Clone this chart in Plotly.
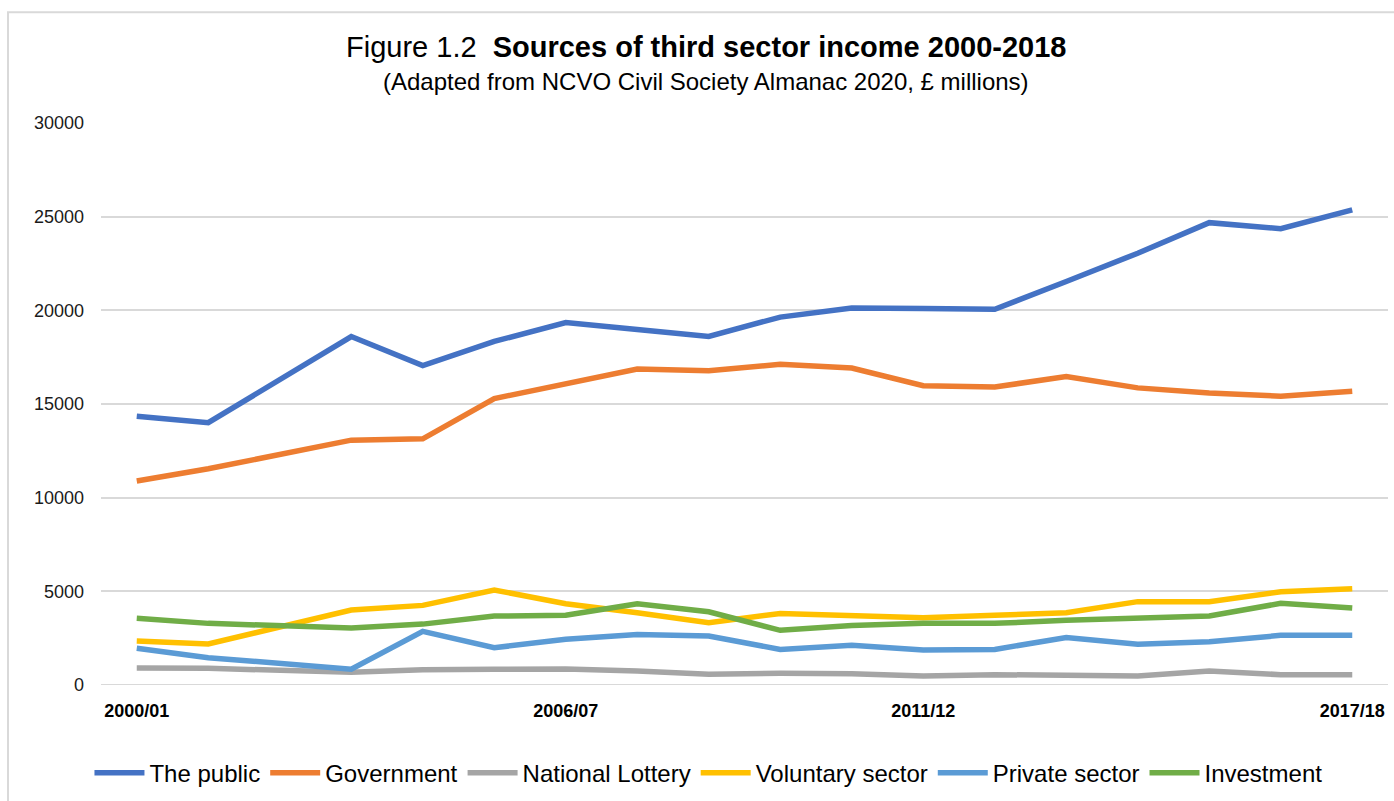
import plotly.graph_objects as go

# Financial years on the category axis
years = ["2000/01", "2001/02", "2002/03", "2003/04", "2004/05", "2005/06",
         "2006/07", "2007/08", "2008/09", "2009/10", "2010/11", "2011/12",
         "2012/13", "2013/14", "2014/15", "2015/16", "2016/17", "2017/18"]
shown_years = ["2000/01", "2006/07", "2011/12", "2017/18"]

# Income by source, £ millions (2002/03 not reported)
the_public = [14350, 14000, None, 18600, 17050, 18340, 19350, 18980, 18610,
              19640, 20120, 20100, 20060, 21540, 23050, 24680, 24360, 25360]
government = [10890, 11540, None, 13070, 13140, 15290, 16090, 16870, 16780,
              17120, 16920, 15980, 15910, 16460, 15860, 15590, 15420, 15680]
national_lottery = [907, 890, None, 676, 818, 836, 854, 747, 569,
                    623, 605, 480, 551, 516, 480, 747, 551, 551]
voluntary_sector = [2350, 2190, None, 4000, 4250, 5070, 4340, 3860, 3330,
                    3820, 3720, 3590, 3720, 3860, 4450, 4450, 4980, 5140]
private_sector = [1960, 1460, None, 840, 2860, 1990, 2440, 2700, 2610,
                  1900, 2120, 1870, 1900, 2530, 2170, 2310, 2650, 2650]
investment = [3560, 3290, None, 3040, 3250, 3680, 3720, 4340, 3910,
              2920, 3180, 3290, 3290, 3450, 3590, 3680, 4360, 4110]

series = [
    ("The public", the_public, "#4472C4"),
    ("Government", government, "#ED7D31"),
    ("National Lottery", national_lottery, "#A5A5A5"),
    ("Voluntary sector", voluntary_sector, "#FFC000"),
    ("Private sector", private_sector, "#5B9BD5"),
    ("Investment", investment, "#70AD47"),
]

FONT = "Liberation Sans, Arial, sans-serif"

fig = go.Figure()
for name, values, color in series:
    fig.add_trace(go.Scatter(
        x=years, y=values, name=name, mode="lines",
        connectgaps=True,
        line=dict(color=color, width=5.5, shape="linear"),
    ))

fig.update_layout(
    width=1394, height=801,
    margin=dict(l=101, r=6, t=123, b=115),
    paper_bgcolor="white", plot_bgcolor="white",
    font=dict(family=FONT, color="#262626"),
    showlegend=True,
    legend=dict(
        orientation="h", x=0.472, xanchor="center", y=-0.155, yanchor="middle",
        font=dict(size=24, color="#000000", family=FONT),
        itemwidth=50, tracegroupgap=0,
        bgcolor="rgba(0,0,0,0)",
    ),
    xaxis=dict(
        type="category", range=[-0.5, 17.5],
        tickmode="array", tickvals=shown_years,
        ticktext=[f"<b>{y}</b>" for y in shown_years],
        tickfont=dict(size=18, color="#000000", family=FONT),
        showgrid=False, showline=False, zeroline=False,
        ticks="", ticklabelstandoff=13,
    ),
    yaxis=dict(
        range=[0, 30000], tickmode="array",
        tickvals=[0, 5000, 10000, 15000, 20000, 25000, 30000],
        tickformat="d",
        tickfont=dict(size=18, color="#1a1a1a", family=FONT),
        showgrid=True, gridcolor="#D9D9D9", gridwidth=2,
        zeroline=False, showline=False, ticks="", ticklabelstandoff=16,
    ),
    shapes=[
        dict(type="rect", xref="paper", yref="paper",
             x0=(8 - 101) / 1287, x1=(1405 - 101) / 1287,
             y0=(686 - 810) / 563, y1=(686 - 12) / 563,
             line=dict(color="#D9D9D9", width=2), layer="below"),
        dict(type="line", xref="paper", yref="y",
             x0=0, x1=1, y0=0, y1=0,
             line=dict(color="#D9D9D9", width=2), layer="below"),
    ],
    annotations=[
        dict(text="Figure 1.2  <b>Sources of third sector income 2000-2018</b>",
             xref="paper", yref="paper", x=0.470, y=(686 - 47) / 563,
             xanchor="center", yanchor="middle", showarrow=False,
             font=dict(size=29, color="#000000", family=FONT)),
        dict(text="(Adapted from NCVO Civil Society Almanac 2020, £ millions)",
             xref="paper", yref="paper", x=0.470, y=(686 - 81) / 563,
             xanchor="center", yanchor="middle", showarrow=False,
             font=dict(size=24, color="#000000", family=FONT)),
    ],
)

fig.write_html("out.html")
